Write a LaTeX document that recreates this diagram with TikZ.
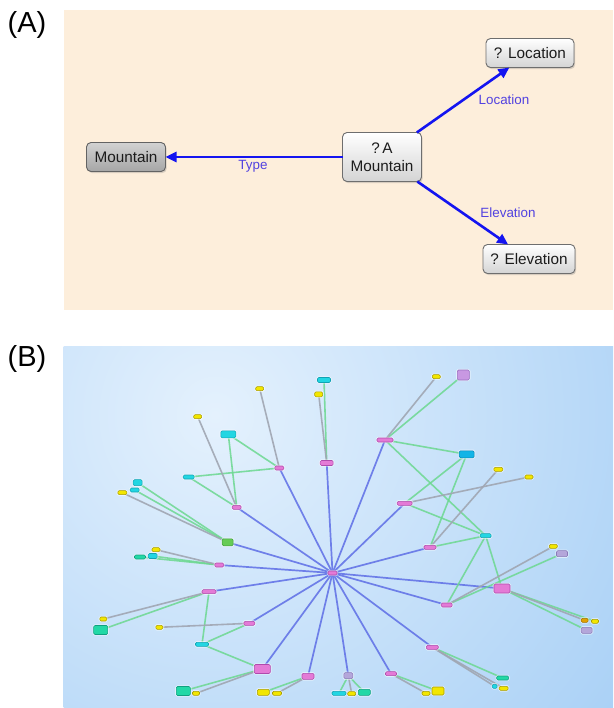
\documentclass[tikz,border=0pt]{standalone}
\usepackage{fontspec}
\setmainfont{Liberation Sans}
\usetikzlibrary{arrows.meta,shadows}
\definecolor{peach}{HTML}{FDEEDB}
\definecolor{bgin}{HTML}{E4F1FD}
\definecolor{bgout}{HTML}{88BEF2}
\definecolor{boxline}{HTML}{6E6E6E}
\definecolor{boxbot}{HTML}{D4D4D4}
\definecolor{mtop}{HTML}{D2D2D2}
\definecolor{mbot}{HTML}{A6A6A6}
\definecolor{txt}{HTML}{1C1C1C}
\definecolor{relblue}{HTML}{1414F0}
\definecolor{lblcol}{HTML}{5242E0}
\definecolor{magF}{HTML}{E47AD6}\definecolor{magD}{HTML}{B04AAC}
\definecolor{cyaF}{HTML}{22D6E2}\definecolor{cyaD}{HTML}{12A2B4}
\definecolor{yelF}{HTML}{F2E600}\definecolor{yelD}{HTML}{A89C00}
\definecolor{teaF}{HTML}{22D8A6}\definecolor{teaD}{HTML}{10A080}
\definecolor{grnF}{HTML}{66CC55}\definecolor{grnD}{HTML}{3C9A3C}
\definecolor{lavF}{HTML}{B4A6DA}\definecolor{lavD}{HTML}{8A7AB8}
\definecolor{purF}{HTML}{C898E2}\definecolor{purD}{HTML}{9A6EC0}
\definecolor{orgF}{HTML}{E2A200}\definecolor{orgD}{HTML}{A07000}
\definecolor{cybF}{HTML}{12B4E6}\definecolor{cybD}{HTML}{0A84B0}
\definecolor{spokec}{HTML}{5E6EE6}
\definecolor{greenc}{HTML}{6CD890}
\definecolor{greyc}{HTML}{A0A6B2}
\pgfdeclarelayer{bglayer}
\pgfdeclarelayer{edgelayer}
\pgfsetlayers{bglayer,edgelayer,main}
\begin{document}
\begin{tikzpicture}[x=1pt,y=-1pt,
  panellbl/.style={font=\fontsize{29}{32}\selectfont, text=black, inner sep=0pt},
  concept/.style={rounded corners=4.5pt, draw=boxline, line width=0.9pt,
    top color=white, bottom color=boxbot, inner sep=0pt, outer sep=0pt,
    minimum height=29pt, font=\fontsize{15.3}{18}\selectfont, text=txt, align=center,
    drop shadow={shadow xshift=1.2pt, shadow yshift=-1.6pt, opacity=0.3}},
  darkconcept/.style={concept, top color=mtop, bottom color=mbot, draw=boxline!90!black},
  rel/.style={draw=relblue, line width=2.6pt, -{Triangle[length=11pt,width=10pt]}},
  rellbl/.style={font=\fontsize{13.4}{15}\selectfont, text=lblcol, inner sep=0pt},
  pn/.style={rounded corners=1.3pt, inner sep=0pt, outer sep=0pt, line width=0.55pt,
    preaction={draw=white, draw opacity=0.5, line width=2.4pt}},
  sz/.style 2 args={minimum width=#1pt, minimum height=#2pt},
  pmag/.style={pn, fill=magF, draw=magD},
  pcya/.style={pn, fill=cyaF, draw=cyaD},
  pyel/.style={pn, fill=yelF, draw=yelD},
  ptea/.style={pn, fill=teaF, draw=teaD},
  pgrn/.style={pn, fill=grnF, draw=grnD},
  plav/.style={pn, fill=lavF, draw=lavD},
  ppur/.style={pn, fill=purF, draw=purD},
  porg/.style={pn, fill=orgF, draw=orgD},
  pcyb/.style={pn, fill=cybF, draw=cybD},
  spoke/.style={draw=spokec, line width=1.7pt, draw opacity=0.85},
  gedge/.style={draw=greenc, line width=1.6pt, draw opacity=0.85},
  yedge/.style={draw=greyc, line width=1.6pt, draw opacity=0.9}
]
\useasboundingbox (0,0) rectangle (613,708);
\begin{pgfonlayer}{bglayer}
  \fill[peach] (64,10) rectangle (613,310);
  \begin{scope}
    \clip (63.5,346) rectangle (613,708);
    \shade[inner color=bgin, outer color=bgout] (215,415) circle (790);
  \end{scope}
\end{pgfonlayer}

% panel labels
\node[panellbl] (labA) at (27,25) {(A)};
\node[panellbl] (labB) at (27,359) {(B)};

% ---------- panel A ----------
\node[darkconcept, minimum width=79pt] (mtn) at (126,157) {Mountain};
\node[concept, minimum width=79pt, minimum height=49pt] (qa) at (382,157) {?\,A\\Mountain};
\node[concept, minimum width=88pt] (qloc) at (530,53) {? Location};
\node[concept, minimum width=92pt] (qele) at (529,259) {? Elevation};
\draw[rel] (qa) -- (mtn);
\draw[rel] (qa) -- (qloc);
\draw[rel] (qa) -- (qele);
\node[rellbl] (ltype) at (253,166) {Type};
\node[rellbl] (lloc) at (504,100) {Location};
\node[rellbl] (lele) at (508,212.5) {Elevation};

% ---------- panel B ----------
\node[pmag,sz={9}{4}] (c) at (332.5,573) {};
\node[pmag,sz={13}{5}] (n1) at (326.7,463) {};
\node[pmag,sz={9}{4}] (n2) at (279.3,468) {};
\node[pmag,sz={9}{4}] (n3) at (236.7,507.3) {};
\node[pgrn,sz={11}{7}] (n4) at (227.7,542.3) {};
\node[pmag,sz={9}{4}] (n5) at (219.3,565) {};
\node[pmag,sz={14}{4}] (n6) at (209,591.7) {};
\node[pmag,sz={11}{4}] (n7) at (249.3,623.3) {};
\node[pmag,sz={16}{9}] (n8) at (262.3,669) {};
\node[pmag,sz={12}{6}] (n9) at (308,676.3) {};
\node[plav,sz={9}{6}] (n10) at (348.3,675.7) {};
\node[pmag,sz={11}{4}] (n11) at (391,673.7) {};
\node[pmag,sz={12}{4}] (n12) at (432.3,647.3) {};
\node[pmag,sz={11}{4}] (n13) at (446.7,605) {};
\node[pmag,sz={16}{9}] (n14) at (502,588.5) {};
\node[pmag,sz={12}{4}] (n15) at (430,547.3) {};
\node[pmag,sz={15}{4}] (n16) at (404.7,503.3) {};
\node[pmag,sz={16}{4}] (n17) at (385,440) {};

\node[pcya,sz={13}{5}] (a1) at (324,380) {};
\node[pyel,sz={8}{5}] (a2) at (318.7,394.3) {};
\node[pyel,sz={8}{4}] (b1) at (259.7,388.7) {};
\node[pcya,sz={15}{7}] (b2) at (228.3,434.3) {};
\node[pcya,sz={11}{4}] (b3) at (188.7,477) {};
\node[pyel,sz={8}{4}] (d1) at (197.7,416.7) {};
\node[pcya,sz={9}{6}] (e1) at (137.7,482.7) {};
\node[pcya,sz={9}{4}] (e2) at (134.7,490) {};
\node[pyel,sz={9}{4}] (e3) at (122.3,492.7) {};
\node[pyel,sz={8}{4}] (f1) at (156,549.7) {};
\node[ptea,sz={11}{4}] (f2) at (140,557) {};
\node[pcya,sz={9}{5}] (f3) at (152.7,556) {};
\node[pyel,sz={7}{4}] (g1) at (103.3,619) {};
\node[ptea,sz={14}{9}] (g2) at (100.7,630) {};
\node[pcya,sz={13}{4}] (h1) at (202,644.3) {};
\node[pyel,sz={7}{4}] (h2) at (159.3,627.3) {};
\node[ptea,sz={14}{9}] (i1) at (183.3,691) {};
\node[pyel,sz={7}{4}] (i2) at (196,693.3) {};
\node[pyel,sz={12}{6}] (j1) at (263.3,692.3) {};
\node[pyel,sz={9}{4}] (j2) at (277,693.3) {};
\node[pcya,sz={14}{4}] (k1) at (339,693.3) {};
\node[pyel,sz={8}{4}] (k2) at (351.7,693.7) {};
\node[ptea,sz={12}{6}] (k3) at (364.3,692.3) {};
\node[pyel,sz={8}{4}] (l1) at (426,693.3) {};
\node[pyel,sz={12}{8}] (l2) at (438,691) {};
\node[ptea,sz={12}{4}] (o1) at (502.7,678) {};
\node[pcya,sz={5}{4}] (o2) at (494.7,686.3) {};
\node[pyel,sz={9}{4}] (o3) at (503.7,688.3) {};
\node[pyel,sz={8}{4}] (p1) at (553.3,546.3) {};
\node[plav,sz={11}{6}] (p2) at (562,553.7) {};
\node[porg,sz={7}{4}] (q1) at (584.7,620.3) {};
\node[pyel,sz={7}{4}] (q2) at (595,621.3) {};
\node[plav,sz={11}{6}] (q3) at (586.7,630.3) {};
\node[pcya,sz={11}{4}] (r1) at (485.7,535.7) {};
\node[pcyb,sz={15}{7}] (r2) at (466.7,454.3) {};
\node[pyel,sz={9}{4}] (s1) at (498.3,469.3) {};
\node[pyel,sz={8}{4}] (s2) at (529,477) {};
\node[pyel,sz={8}{4}] (t1) at (436.3,376.7) {};
\node[ppur,sz={12}{10}] (t2) at (463.3,375) {};

\begin{pgfonlayer}{edgelayer}
  \foreach \n in {n1,n2,n3,n4,n5,n6,n7,n8,n9,n10,n11,n12,n13,n14,n15,n16,n17}
    \draw[spoke] (c.center) -- (\n.center);
  \foreach \a/\b in {n1/a1,n2/b2,n2/b3,n3/b2,n3/b3,n4/e1,n4/e2,n5/f2,n5/f3,n6/g2,n6/h1,n7/h1,n8/h1,n8/i1,n9/j1,n10/k1,n10/k3,n11/l2,n12/o1,n13/p2,n13/r1,n14/r1,n14/q2,n14/q3,n15/r1,n15/r2,n16/r1,n16/r2,n17/r1,n17/r2,n17/t2}
    \draw[gedge] (\a.center) -- (\b.center);
  \foreach \a/\b in {n1/a2,n2/b1,n3/d1,n4/e3,n5/f1,n6/g1,n7/h2,n8/i2,n9/j2,n10/k2,n11/l1,n12/o2,n12/o3,n13/p1,n14/q1,n15/s1,n16/s2,n17/t1}
    \draw[yedge] (\a.center) -- (\b.center);
\end{pgfonlayer}
\end{tikzpicture}
\end{document}
